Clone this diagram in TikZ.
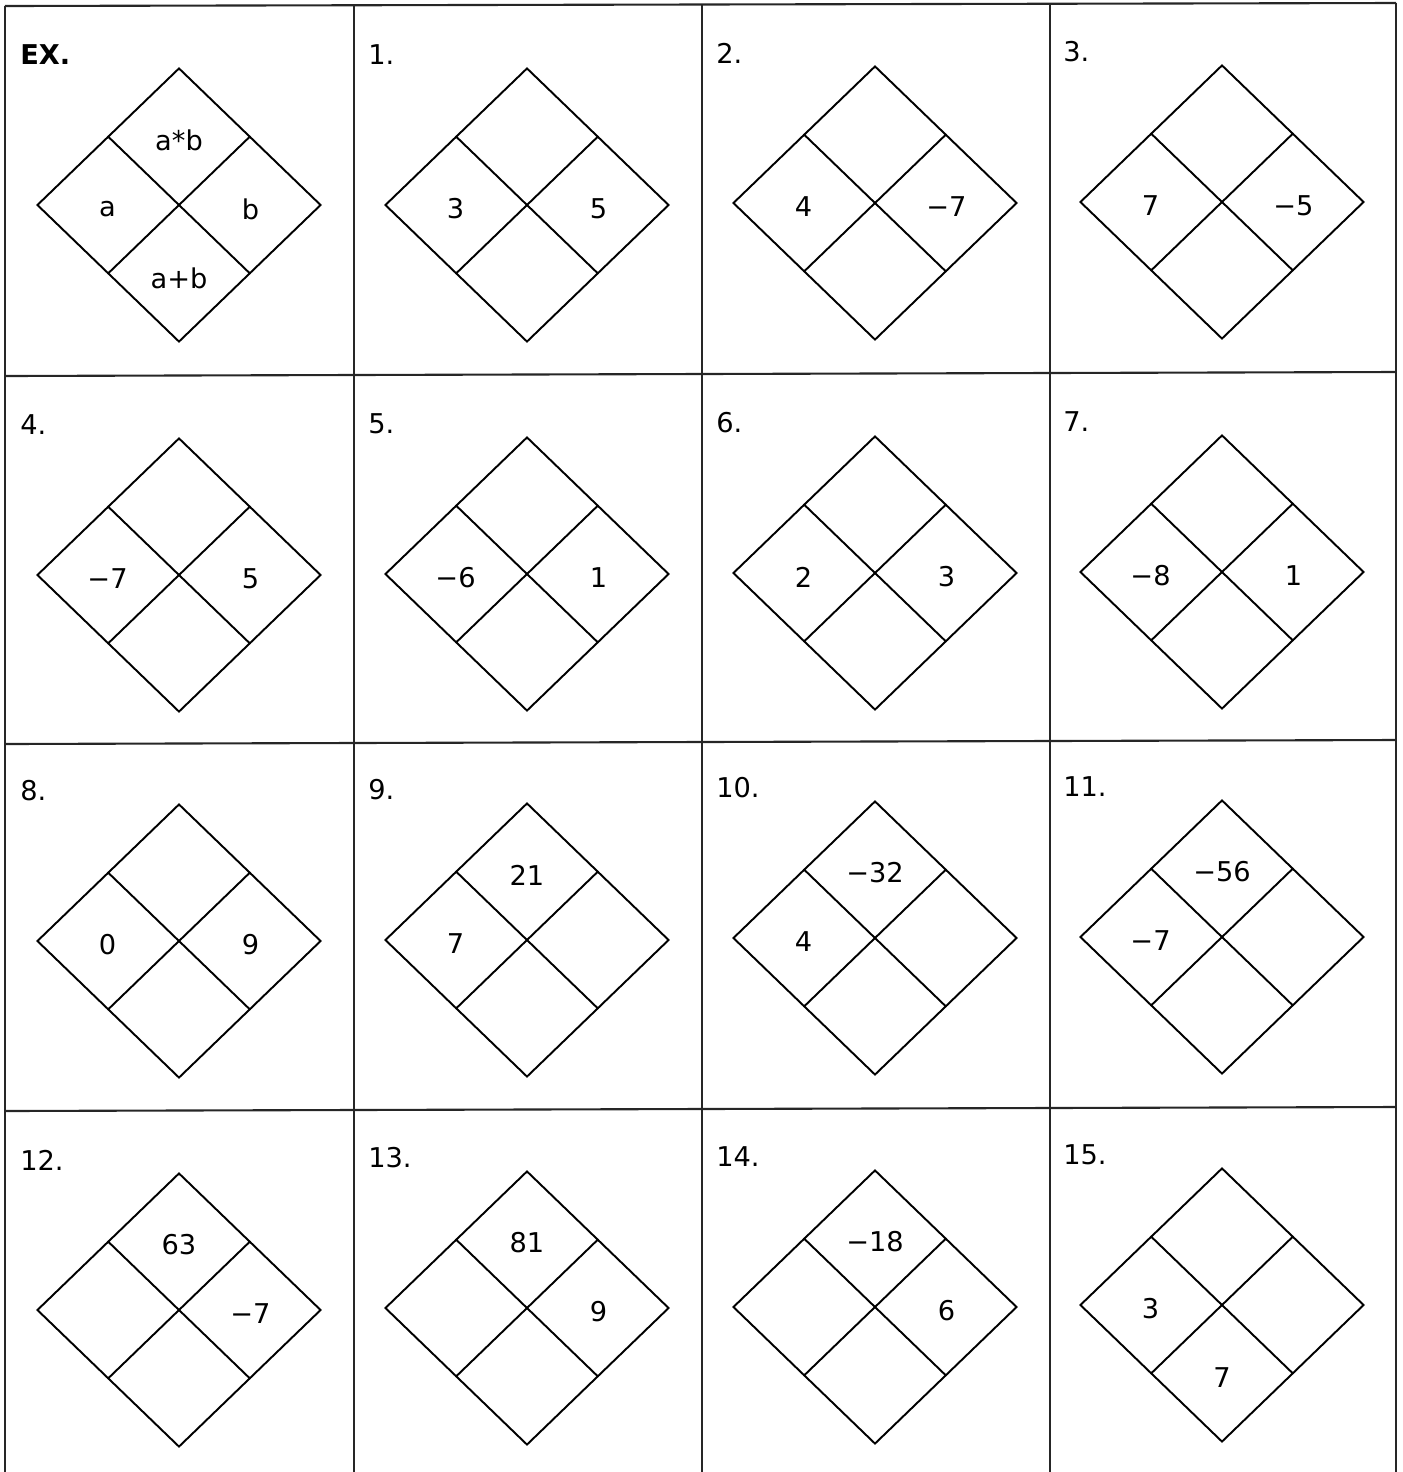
\documentclass[tikz,border=0pt]{standalone}
\usepackage{fontspec}
\setmainfont{DejaVu Sans}
\usetikzlibrary{shapes.geometric, calc, positioning}
\tikzset{
    grid_line/.style={
        draw=black!85,
        line width=1.2pt
    },
    dia_box/.style={
        diamond,
        draw,
        line width=1.1pt,
        minimum width=5.68cm,
        minimum height=5.48cm,
        inner sep=0pt
    },
    dia_line/.style={
        line width=1.1pt
    },
    dia_text/.style={
        font=\fontsize{15.5}{18}\selectfont,
        inner sep=0pt,
        yshift=-0.08cm
    },
    cell_num/.style={
        anchor=west,
        font=\fontsize{15.5}{18}\selectfont,
        inner sep=0pt
    }
}
% name, centre x, centre y, number, left, top, right, bottom
\newcommand{\diacell}[8]{
    \node[dia_box] (#1) at (#2,#3) {};
    \draw[dia_line] (#1.north west) -- (#1.south east);
    \draw[dia_line] (#1.north east) -- (#1.south west);
    \node[cell_num] (#1n) at ($(#1.center)+(-159,-150)$) {#4};
    \node[dia_text] (#1l) at ($(#1.center)!0.5!(#1.west)$) {#5};
    \node[dia_text] (#1t) at ($(#1.center)!0.5!(#1.north)$) {#6};
    \node[dia_text] (#1r) at ($(#1.center)!0.5!(#1.east)$) {#7};
    \node[dia_text] (#1b) at ($(#1.center)!0.5!(#1.south)$) {#8};
}

\begin{document}
\begin{tikzpicture}[x=0.02cm, y=-0.02cm]
\useasboundingbox (0,0) rectangle (1403,1472);

% Grid
\draw[grid_line] (5,6) -- (1396,3);
\draw[grid_line] (5,376) -- (1396,372);
\draw[grid_line] (5,744) -- (1396,740);
\draw[grid_line] (5,1111) -- (1396,1107);
\draw[grid_line] (5,6) -- (5,1472);
\draw[grid_line] (354,5) -- (354,1472);
\draw[grid_line] (702,4) -- (702,1472);
\draw[grid_line] (1050,4) -- (1050,1472);
\draw[grid_line] (1396,3) -- (1396,1472);

% Row 1
\diacell{ex}{179}{205}{\bfseries EX.}{a}{a*b}{b}{a+b}
\diacell{p1}{527}{205}{1.}{3}{}{5}{}
\diacell{p2}{875}{203}{2.}{4}{}{−7}{}
\diacell{p3}{1222}{202}{3.}{7}{}{−5}{}

% Row 2
\diacell{p4}{179}{575}{4.}{−7}{}{5}{}
\diacell{p5}{527}{574}{5.}{−6}{}{1}{}
\diacell{p6}{875}{573}{6.}{2}{}{3}{}
\diacell{p7}{1222}{572}{7.}{−8}{}{1}{}

% Row 3
\diacell{p8}{179}{941}{8.}{0}{}{9}{}
\diacell{p9}{527}{940}{9.}{7}{21}{}{}
\diacell{p10}{875}{938}{10.}{4}{−32}{}{}
\diacell{p11}{1222}{937}{11.}{−7}{−56}{}{}

% Row 4
\diacell{p12}{179}{1310}{12.}{}{63}{−7}{}
\diacell{p13}{527}{1308}{13.}{}{81}{9}{}
\diacell{p14}{875}{1307}{14.}{}{−18}{6}{}
\diacell{p15}{1222}{1305}{15.}{3}{}{}{7}

\end{tikzpicture}
\end{document}
